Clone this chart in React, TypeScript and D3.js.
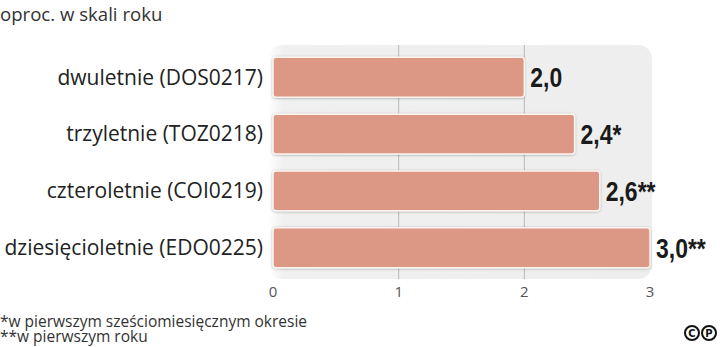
import React from "react";
import * as d3 from "d3";

const categories = [
  "dwuletnie (DOS0217)",
  "trzyletnie (TOZ0218)",
  "czteroletnie (COI0219)",
  "dziesięcioletnie (EDO0225)",
];
const values = [2.0, 2.4, 2.6, 3.0];
const valueLabels = ["2,0", "2,4*", "2,6**", "3,0**"];
const ticks = [0, 1, 2, 3];
const title = "oproc. w skali roku";
const footnotes = ["*w pierwszym sześciomiesięcznym okresie", "**w pierwszym roku"];

const W = 720;
const H = 347;

export default function App() {
  const x = d3.scaleLinear().domain([0, 3]).range([273, 650]);
  const y = d3.scaleBand<string>().domain(categories).range([46, 279]).paddingInner(0.3).paddingOuter(0.2);
  const bw = y.bandwidth();
  return (
    <svg width={W} height={H} style={{ position: "absolute", left: 0, top: 0, background: "#fff" }}>
      <defs>
        <linearGradient id="pg" x1="0" x2="1" y1="0" y2="0">
          <stop offset="0" stopColor="#ffffff" />
          <stop offset="0.04" stopColor="#f0f0f0" />
          <stop offset="1" stopColor="#eeeeee" />
        </linearGradient>
        <filter id="sh" x="-5%" y="-20%" width="110%" height="140%">
          <feDropShadow dx="0" dy="0.5" stdDeviation="1" floodColor="#000" floodOpacity="0.3" />
        </filter>
      </defs>
      <text x={0} y={21} fontFamily="Open Sans, sans-serif" fontSize={18.6} fill="#333">{title}</text>
      <rect x={268} y={45} width={384} height={234} rx={14} fill="url(#pg)" />
      {ticks.slice(1, 3).map((t) => (
        <line key={t} x1={x(t)} x2={x(t)} y1={45} y2={279} stroke="#b9b9b9" strokeWidth={1} />
      ))}
      {categories.map((c, i) => (
        <g key={c}>
          <rect
            x={x(0)}
            y={y(c)!}
            width={x(values[i]) - x(0)}
            height={bw}
            rx={3}
            fill="#dc9884"
            stroke="#fbf3ef"
            strokeWidth={1.5}
            filter="url(#sh)"
          />
          <text
            x={263}
            y={y(c)! + bw / 2}
            dy="0.35em"
            textAnchor="end"
            fontFamily="Open Sans, sans-serif"
            fontSize={21}
            fill="#222"
          >
            {c}
          </text>
          <text
            transform={`translate(${x(values[i]) + 6},${y(c)! + bw / 2}) scale(0.82,1)`}
            dy="0.36em"
            fontFamily="Liberation Sans, Arial, sans-serif"
            fontWeight="bold"
            fontSize={28}
            fill="#1a1a1a"
          >
            {valueLabels[i]}
          </text>
        </g>
      ))}
      {ticks.map((t) => (
        <text key={t} x={x(t)} y={297} textAnchor="middle" fontFamily="Open Sans, sans-serif" fontSize={15} fill="#555">
          {t}
        </text>
      ))}
      {footnotes.map((f, i) => (
        <text key={f} x={0} y={327 + i * 15} fontFamily="Open Sans, sans-serif" fontSize={15.5} fill="#333">
          {f}
        </text>
      ))}
      <g fontFamily="DejaVu Sans, sans-serif" fontWeight="bold" fontSize={10} textAnchor="middle">
        <circle cx={692} cy={333} r={7} fill="none" stroke="#111" strokeWidth={2} />
        <text x={692} y={336.5} fill="#111">C</text>
        <circle cx={709} cy={333} r={7} fill="none" stroke="#111" strokeWidth={2} />
        <text x={709} y={336.5} fill="#111">P</text>
      </g>
    </svg>
  );
}
